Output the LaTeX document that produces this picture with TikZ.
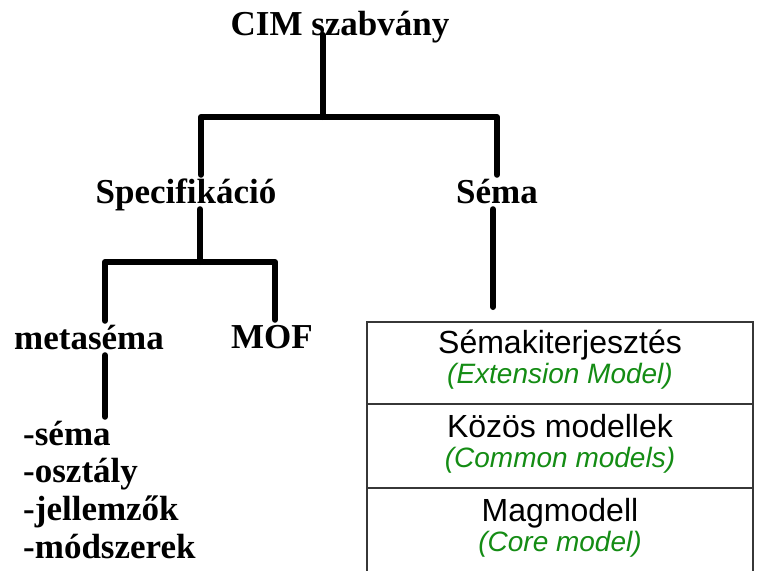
\documentclass[tikz,border=0pt]{standalone}
\usepackage{fontspec}
\setmainfont{Liberation Serif}
\newfontfamily\boxfont{Liberation Sans}
\usetikzlibrary{calc}
\definecolor{modelgreen}{RGB}{20,140,20}
\definecolor{boxgray}{RGB}{55,55,55}

\begin{document}
\begin{tikzpicture}[x=1pt,y=-1pt,
    lbl/.style={font=\fontsize{35}{38}\selectfont\bfseries,inner sep=0pt,
      text height=28pt,text depth=6pt,anchor=base},
    tree/.style={line width=6pt,line cap=round,line join=round},
    maintxt/.style={font=\boxfont\fontsize{32}{36}\selectfont,inner sep=0pt,anchor=base},
    subtxt/.style={font=\boxfont\itshape\fontsize{28}{32}\selectfont,text=modelgreen,
      inner sep=0pt,anchor=base}]
  \useasboundingbox (0,0) rectangle (757,570);

  % tree labels
  \node[lbl] (cim) at (340,35) {CIM szabvány};
  \node[lbl] (spec) at (186,203) {Specifikáció};
  \node[lbl] (sema) at (497,203) {Séma};
  \node[lbl] (meta) at (89,349) {metaséma};
  \node[lbl] (mof) at (272,348) {MOF};
  \foreach \t [count=\i] in {-séma,-osztály,-jellemzők,-módszerek}{
    \node[lbl,anchor=base west] (l\i) at (23,{445+37.7*(\i-1)}) {\t};}

  % junctions
  \coordinate (j1) at (323,117);
  \coordinate (j1l) at (201,117);
  \coordinate (j1r) at (497,117);
  \coordinate (j2) at (200,262);
  \coordinate (j2l) at (105,262);
  \coordinate (j2r) at (275,262);
  \coordinate (s1) at (493,307);

  \draw[tree] (cim.base -| j1) -- (j1);
  \draw[tree] (spec.north -| j1l) -- (j1l) -- (j1r) -- (sema.north -| j1r);
  \draw[tree] (spec.south -| j2) -- (j2);
  \draw[tree] (meta.north -| j2l) -- (j2l) -- (j2r) -- (mof.north -| j2r);
  \draw[tree] (meta.south -| j2l) -- (l1.north -| j2l);
  \draw[tree] (sema.south -| s1) -- (s1);

  % schema box
  \draw[boxgray,line width=2pt] (367,575) -- (367,322) -- (753,322) -- (753,575);
  \draw[boxgray,line width=1.2pt] (367,404) -- (753,404) (367,488) -- (753,488);
  \foreach \a/\b [count=\i] in {Sémakiterjesztés/Extension Model,
      Közös modellek/Common models,Magmodell/Core model}{
    \node[maintxt] (main\i) at (560,{353+84*(\i-1)}) {\a};
    \node[subtxt] (sub\i) at (560,{383+84*(\i-1)}) {(\b)};}
\end{tikzpicture}
\end{document}
